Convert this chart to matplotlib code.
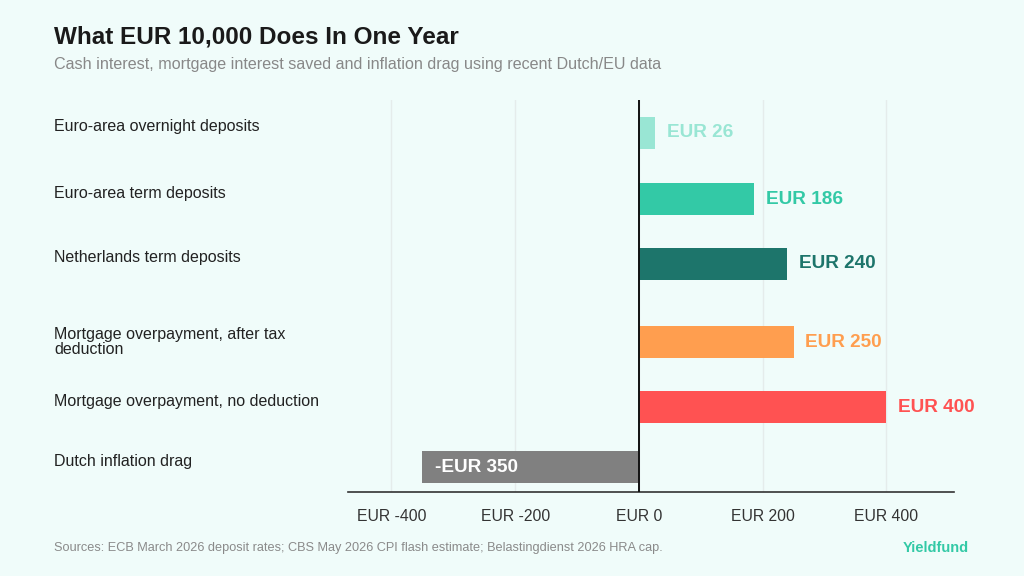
import numpy as np
import matplotlib
matplotlib.use('Agg')
import matplotlib.pyplot as plt
import matplotlib.transforms as mtransforms

plt.rcParams['font.family'] = ['Liberation Sans', 'DejaVu Sans']

# data
categories = ['Euro-area overnight deposits', 'Euro-area term deposits',
              'Netherlands term deposits', 'Mortgage overpayment, after tax\ndeduction',
              'Mortgage overpayment, no deduction', 'Dutch inflation drag']
values = [26, 186, 240, 250, 400, -350]
value_labels = ['EUR 26', 'EUR 186', 'EUR 240', 'EUR 250', 'EUR 400', '-EUR 350']
ticks = [-400, -200, 0, 200, 400]
tick_labels = ['EUR -400', 'EUR -200', 'EUR 0', 'EUR 200', 'EUR 400']

# layout: row positions (slightly uneven like the original)
row_pos = [0, 0.99, 1.96, 3.13, 4.10, 5.0]

colors = ['#99e6d4', '#33c9a6', '#1d756b', '#ff9e4f', '#ff5252', '#808080']
bg = '#f0fcfa'

fig = plt.figure(figsize=(10.24, 5.76), dpi=100, facecolor=bg)
ax = fig.add_axes([0.340, 0.146, 0.592, 0.680], facecolor=bg)

ax.barh(row_pos, values, height=0.48, color=colors, zorder=2)
ax.set_ylim(5.37, -0.49)
ax.set_xlim(-470, 510)

ax.set_xticks(ticks)
ax.set_xticklabels(tick_labels, fontsize=11.3, color='#333333')
ax.set_yticks([])
ax.tick_params(axis='x', length=0, pad=12)
ax.grid(axis='x', color='#e5eceb', linewidth=1, zorder=0)
for s in ['top', 'right', 'left']:
    ax.spines[s].set_visible(False)
ax.spines['bottom'].set_color('#333333')
ax.spines['bottom'].set_linewidth(1.2)
ax.axvline(0, color='#111111', linewidth=1.4, zorder=3)

# value labels
for yi, v, lab, c in zip(row_pos, values, value_labels, colors):
    if v >= 0:
        ax.annotate(lab, (v, yi), xytext=(8.5, 0), textcoords='offset points',
                    ha='left', va='center', fontsize=13.7, fontweight='bold', color=c)
    else:
        ax.annotate(lab, (v, yi), xytext=(9, 0), textcoords='offset points',
                    ha='left', va='center', fontsize=13.7, fontweight='bold', color='white')

# category labels, left aligned at figure edge
trans = mtransforms.blended_transform_factory(fig.transFigure, ax.transData)
for yi, cat in zip(row_pos, categories):
    off = 0.0 if '\n' in cat else -0.09
    ax.text(54 / 1024, yi + off, cat, transform=trans, ha='left', va='center',
            fontsize=11.5, color='#222222', linespacing=0.95, clip_on=False)

fig.text(54 / 1024, 1 - 37 / 576, 'What EUR 10,000 Does In One Year', fontsize=17.5,
         fontweight='bold', color='#1a1a1a', va='center', ha='left')
fig.text(54 / 1024, 1 - 65 / 576,
         'Cash interest, mortgage interest saved and inflation drag using recent Dutch/EU data',
         fontsize=11.6, color='#888888', va='center', ha='left')
fig.text(54 / 1024, 1 - 548 / 576,
         'Sources: ECB March 2026 deposit rates; CBS May 2026 CPI flash estimate; Belastingdienst 2026 HRA cap.',
         fontsize=9.2, color='#8a8a8a', va='center', ha='left')
fig.text(969 / 1024, 1 - 548 / 576, 'Yieldfund', fontsize=10.5, fontweight='bold',
         color='#33c9a6', va='center', ha='right')

fig.savefig('out.png', dpi=100, facecolor=bg)
